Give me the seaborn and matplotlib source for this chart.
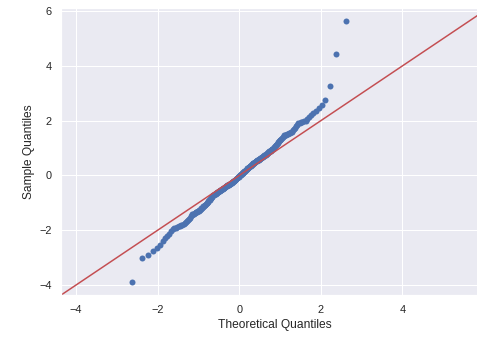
from statistics import NormalDist

import numpy as np
import matplotlib
matplotlib.use("Agg")
import matplotlib.pyplot as plt
import seaborn as sns

# sorted sample values (n = 230)
sample_low = [
    -3.89, -3.02, -2.89, -2.74, -2.66, -2.53, -2.40, -2.28, -2.20, -2.13,
    -2.04, -1.95, -1.91, -1.90, -1.88, -1.86, -1.84, -1.81, -1.79, -1.76,
    -1.74, -1.71, -1.68, -1.63, -1.58, -1.54, -1.49, -1.44, -1.42, -1.41,
    -1.39, -1.37, -1.35, -1.34, -1.32, -1.30, -1.28, -1.27, -1.25, -1.22,
    -1.20, -1.18, -1.16, -1.13, -1.11, -1.09, -1.06, -1.04, -1.02, -0.99,
    -0.97, -0.94, -0.91, -0.89, -0.86, -0.83, -0.81, -0.78, -0.75, -0.73,
    -0.71, -0.70, -0.68, -0.67, -0.66, -0.65, -0.63, -0.62, -0.61, -0.59,
    -0.58, -0.57, -0.56, -0.54, -0.53, -0.52, -0.50, -0.49, -0.48, -0.47,
]
sample_mid = [
    -0.45, -0.44, -0.43, -0.42, -0.41, -0.40, -0.39, -0.38, -0.36, -0.35,
    -0.34, -0.33, -0.32, -0.31, -0.30, -0.29, -0.28, -0.27, -0.26, -0.25,
    -0.24, -0.22, -0.21, -0.19, -0.18, -0.16, -0.15, -0.13, -0.12, -0.10,
    -0.09, -0.07, -0.06, -0.04, -0.03, -0.01, 0.00, 0.02, 0.03, 0.05,
    0.06, 0.08, 0.09, 0.10, 0.12, 0.13, 0.15, 0.16, 0.18, 0.20,
    0.21, 0.23, 0.24, 0.26, 0.27, 0.29, 0.30, 0.32, 0.33, 0.35,
    0.36, 0.38, 0.39, 0.41, 0.42, 0.44, 0.45, 0.46, 0.47, 0.49,
    0.50, 0.51, 0.52, 0.54, 0.55, 0.56, 0.57, 0.58, 0.60, 0.61,
]
sample_high = [
    0.62, 0.63, 0.64, 0.66, 0.67, 0.68, 0.70, 0.71, 0.73, 0.75,
    0.76, 0.78, 0.80, 0.81, 0.83, 0.85, 0.86, 0.88, 0.90, 0.91,
    0.93, 0.95, 0.96, 0.98, 1.01, 1.04, 1.07, 1.10, 1.13, 1.16,
    1.19, 1.22, 1.25, 1.29, 1.31, 1.34, 1.37, 1.40, 1.43, 1.46,
    1.48, 1.49, 1.51, 1.53, 1.54, 1.56, 1.58, 1.59, 1.65, 1.70,
    1.75, 1.80, 1.85, 1.90, 1.92, 1.94, 1.96, 1.98, 2.00, 2.06,
    2.13, 2.20, 2.28, 2.37, 2.45, 2.58, 2.75, 3.28, 4.44, 5.62,
]

x_ticks = [-4, -2, 0, 2, 4]
y_ticks = [-4, -2, 0, 2, 4, 6]
x_label = "Theoretical Quantiles"
y_label = "Sample Quantiles"

sample = np.array(sample_low + sample_mid + sample_high)
n = len(sample)
# theoretical normal quantiles at plotting positions i/(n+1)
nd = NormalDist()
theo = np.array([nd.inv_cdf(i / (n + 1)) for i in range(1, n + 1)])

sns.set_theme(style="darkgrid", context="notebook")
sns.set_color_codes("deep")
plt.rcParams["font.family"] = ["Liberation Sans", "DejaVu Sans"]

fig = plt.figure(figsize=(477 / 72, 338 / 72), dpi=72)
ax = fig.add_axes([0.128, 0.127, 0.895, 0.848])

sns.scatterplot(x=theo, y=sample, ax=ax, color="b", s=36, linewidth=0)

# 45 degree reference line spanning the combined limits
xr = theo.max() - theo.min()
yr = sample.max() - sample.min()
lo = min(theo.min() - 0.05 * xr, sample.min() - 0.05 * yr)
hi = max(theo.max() + 0.05 * xr, sample.max() + 0.05 * yr)
ax.plot([lo, hi], [lo, hi], "r-", lw=1.5)
ax.set_xlim(lo, hi)
ax.set_ylim(lo, hi)
ax.set_xticks(x_ticks)
ax.set_yticks(y_ticks)

ax.set_xlabel(x_label)
ax.set_ylabel(y_label)

fig.savefig("out.png", dpi=72)
